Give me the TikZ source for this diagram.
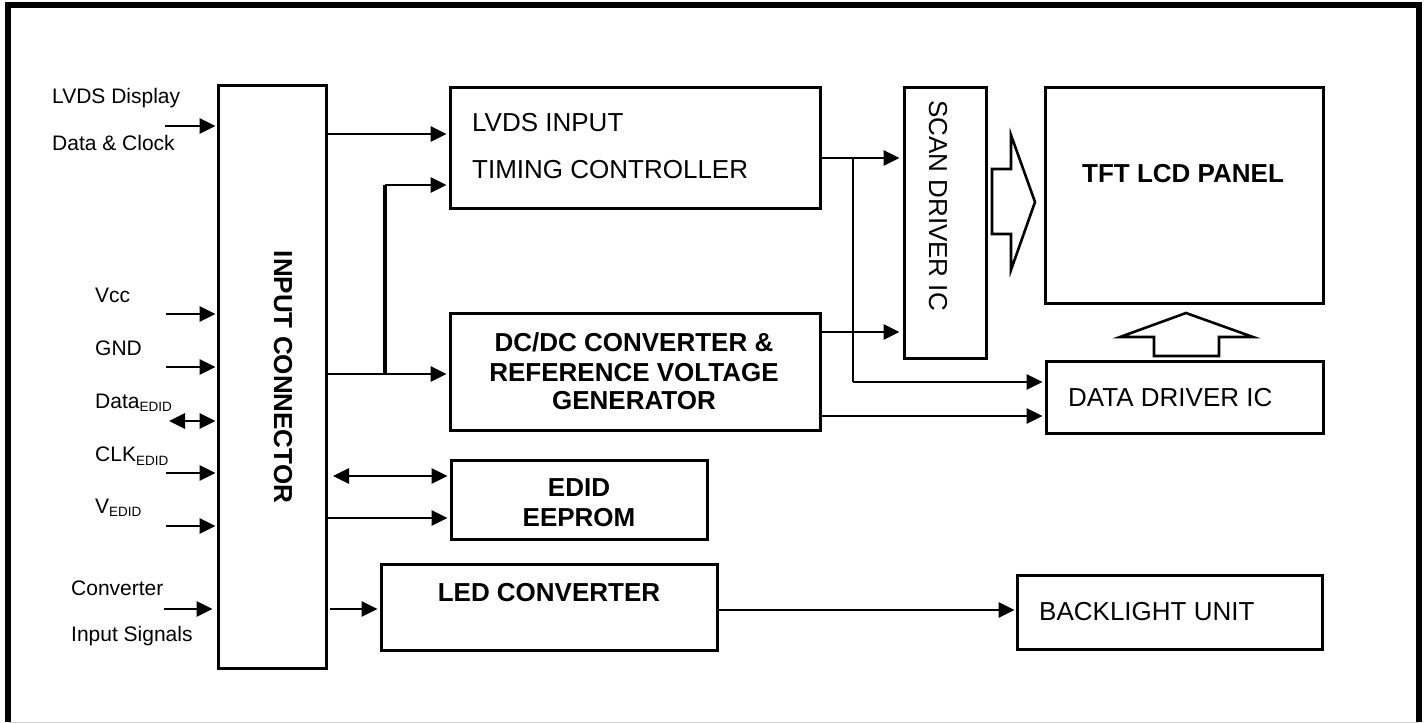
\documentclass[tikz,border=0pt]{standalone}
\usepackage{fontspec}
\setmainfont{Liberation Sans}
\usetikzlibrary{arrows.meta}
\newcommand\edidsub[1]{\raisebox{-3.4pt}{\fontsize{13.5}{14}\selectfont #1}}
\begin{document}
\begin{tikzpicture}[x=1pt,y=-1pt,
  box/.style={draw, line width=3pt, inner sep=0pt},
  arr/.style={line width=2.8pt, -{Triangle[length=16pt,width=15pt]}},
  darr/.style={line width=2.8pt, {Triangle[length=16pt,width=15pt]}-{Triangle[length=16pt,width=15pt]}},
  big/.style={font=\fontsize{26}{30}\selectfont, inner sep=0pt},
  bigb/.style={font=\fontsize{26}{30}\selectfont\bfseries, inner sep=0pt},
  lbl/.style={font=\fontsize{21}{24}\selectfont, anchor=base west, inner sep=0pt},
  hollow/.style={draw, line width=2.6pt, line join=miter, fill=white}]
\useasboundingbox (0,0) rectangle (1425,723);
% outer frame
\draw[gray!35, line width=1pt] (8,722) -- (1419,722);
\draw[line width=5.5pt] (8,722) -- (8,5) -- (1419,5) -- (1419,722);

% boxes
\node[box, minimum width=108pt, minimum height=583pt] (conn) at (272,376.5) {};
\node[box, minimum width=370pt, minimum height=121pt] (tc) at (635,147.5) {};
\node[box, minimum width=370pt, minimum height=117pt] (dc) at (635,371.5) {};
\node[box, minimum width=256pt, minimum height=79pt] (edid) at (579,499.5) {};
\node[box, minimum width=336pt, minimum height=86pt] (led) at (549,607) {};
\node[box, minimum width=82pt, minimum height=271pt] (scan) at (945,222.5) {};
\node[box, minimum width=278pt, minimum height=216pt] (tft) at (1184,195) {};
\node[box, minimum width=277pt, minimum height=72pt] (dd) at (1184.5,397) {};
\node[box, minimum width=305pt, minimum height=74pt] (bl) at (1169.5,612) {};

% box texts
\node[bigb, rotate=-90] (connT) at (283,377) {INPUT CONNECTOR};
\node[big, anchor=base west] (tcT1) at (472,131.3) {LVDS INPUT};
\node[big, anchor=base west] (tcT2) at (472,178.3) {TIMING CONTROLLER};
\node[bigb, anchor=base] (dcT1) at (634,351.3) {DC/DC CONVERTER \&};
\node[bigb, anchor=base] (dcT2) at (634,381.3) {REFERENCE VOLTAGE};
\node[bigb, anchor=base] (dcT3) at (634,409.3) {GENERATOR};
\node[bigb, anchor=base] (edidT1) at (579,496) {EDID};
\node[bigb, anchor=base] (edidT2) at (579,526) {EEPROM};
\node[bigb, anchor=base] (ledT) at (549,601) {LED CONVERTER};
\node[big, rotate=-90] (scanT) at (938,205.5) {SCAN DRIVER IC};
\node[bigb, anchor=base] (tftT) at (1183,182) {TFT LCD PANEL};
\node[big, anchor=base west] (ddT) at (1068,406) {DATA DRIVER IC};
\node[big, anchor=base west] (blT) at (1039,620.7) {BACKLIGHT UNIT};

% left labels
\node[lbl] (l1) at (52,103.3) {LVDS Display};
\node[lbl] (l2) at (52,150.7) {Data \& Clock};
\node[lbl] (l3) at (95,302.3) {Vcc};
\node[lbl] (l4) at (95,355.7) {GND};
\node[lbl] (l5) at (95,408.3) {Data\edidsub{EDID}};
\node[lbl] (l6) at (95,461.7) {CLK\edidsub{EDID}};
\node[lbl] (l7) at (95,513.5) {V\edidsub{EDID}};
\node[lbl] (l8) at (71,595) {Converter};
\node[lbl] (l9) at (71,641.7) {Input Signals};

% left inputs
\coordinate (i1) at (165,126);
\coordinate (i2) at (166,314);
\coordinate (i3) at (166,367);
\coordinate (i4) at (169,421);
\coordinate (i5) at (166,473);
\coordinate (i6) at (166,526);
\coordinate (i7) at (164,609);
\draw[arr] (i1) -- ([xshift=-1pt]conn.west |- i1);
\draw[arr] (i2) -- ([xshift=-1pt]conn.west |- i2);
\draw[arr] (i3) -- ([xshift=-1pt]conn.west |- i3);
\draw[darr] (i4) -- ([xshift=-1pt]conn.west |- i4);
\draw[arr] (i5) -- ([xshift=-1pt]conn.west |- i5);
\draw[arr] (i6) -- ([xshift=-1pt]conn.west |- i6);
\draw[arr] (i7) -- ([xshift=-4pt]conn.west |- i7);

% connector outputs
\draw[arr] (conn.east |- 0,134) -- ([xshift=-2pt]tc.west |- 0,134);
\coordinate (br) at (385,374);
\draw[arr] (conn.east |- br) -- ([xshift=-2pt]dc.west |- br);
\draw[line width=3.8pt] (br) -- (385,185);
\draw[arr] (385,185) -- ([xshift=-2pt]tc.west |- 0,185);
\coordinate (e1) at (333,476);
\draw[darr] (e1) -- ([xshift=-2pt]edid.west |- e1);
\draw[arr] (conn.east |- 0,518) -- ([xshift=-2pt]edid.west |- 0,518);
\coordinate (c1) at (330,609);
\draw[arr] (c1) -- ([xshift=-2pt]led.west |- c1);
\draw[arr] (led.east |- 0,610) -- ([xshift=-1pt]bl.west |- 0,610);

% timing / dc outputs
\coordinate (v1) at (853,158);
\draw[arr] (tc.east |- v1) -- ([xshift=-3pt]scan.west |- v1);
\draw[line width=2.8pt] (v1) -- (853,382);
\draw[arr] (853,382) -- ([xshift=-2pt]dd.west |- 0,382);
\draw[arr] (dc.east |- 0,332) -- ([xshift=-3pt]scan.west |- 0,332);
\draw[arr] (dc.east |- 0,416) -- ([xshift=-2pt]dd.west |- 0,416);

% hollow arrows
\draw[hollow] (992,169) -- (1011,169) -- (1011,135) -- (1035,202) -- (1011,270) -- (1011,234) -- (992,234) -- cycle;
\draw[hollow] (1154,356) -- (1154,337) -- (1120,337) -- (1186,313) -- (1253,337) -- (1219,337) -- (1219,356) -- cycle;
\end{tikzpicture}
\end{document}
